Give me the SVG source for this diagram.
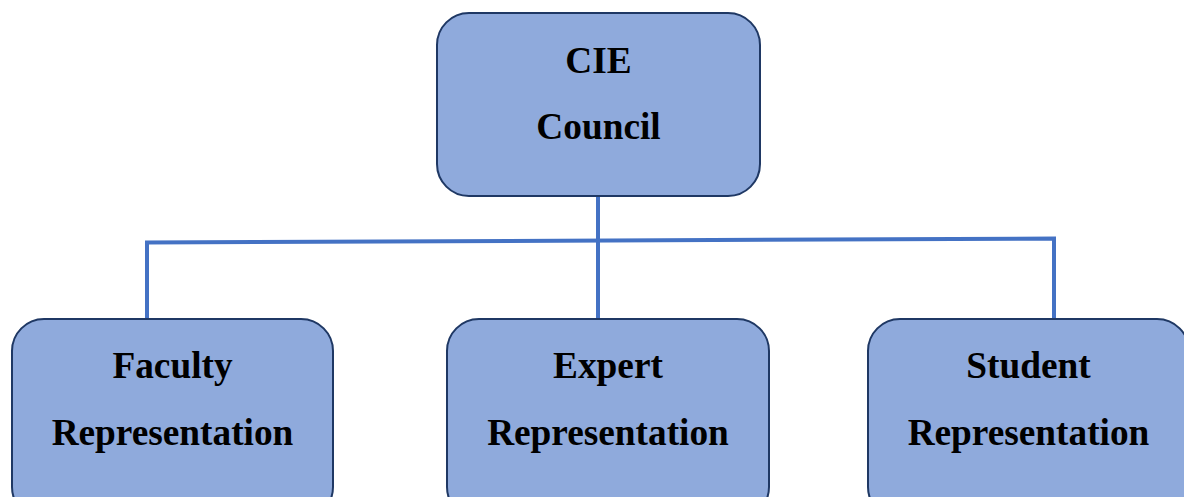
<svg xmlns="http://www.w3.org/2000/svg" width="1184" height="497" viewBox="0 0 1184 497">
<style>
.box{fill:#8FAADC;stroke:#1F3864;stroke-width:2}
.lbl{font-family:"Liberation Serif","Times New Roman",serif;font-weight:bold;font-size:37.3px;fill:#000;text-anchor:middle}
.con{stroke:#4472C4;stroke-width:4;fill:none}
</style>
<rect width="1184" height="497" fill="#fff"/>
<g id="connectors">
<line class="con" x1="598" y1="196" x2="598" y2="319"/>
<polyline class="con" points="147,319 147,242.5 1054,238.5 1054,319"/>
</g>
<g id="cie-council">
<rect class="box" x="437" y="13" width="323" height="183" rx="32"/>
<text class="lbl" x="598.5" y="73">CIE</text>
<text class="lbl" x="598.5" y="139">Council</text>
</g>
<g id="faculty">
<rect class="box" x="12" y="319" width="321" height="200" rx="32"/>
<text class="lbl" x="172.5" y="378">Faculty</text>
<text class="lbl" x="172.5" y="445">Representation</text>
</g>
<g id="expert">
<rect class="box" x="447" y="319" width="322" height="200" rx="32"/>
<text class="lbl" x="608" y="378">Expert</text>
<text class="lbl" x="608" y="445">Representation</text>
</g>
<g id="student">
<rect class="box" x="868" y="319" width="321" height="200" rx="32"/>
<text class="lbl" x="1028.5" y="378">Student</text>
<text class="lbl" x="1028.5" y="445">Representation</text>
</g>
</svg>
